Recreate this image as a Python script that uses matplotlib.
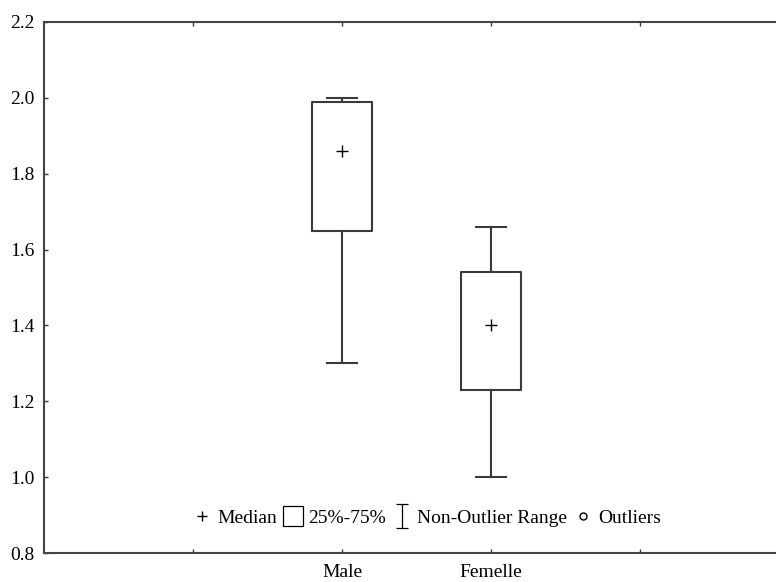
import matplotlib
matplotlib.use("Agg")
import matplotlib.pyplot as plt
from matplotlib.lines import Line2D
from matplotlib.path import Path

plt.rcParams['font.family'] = ['Liberation Serif', 'DejaVu Serif']

categories = ["Male", "Femelle"]
medians = [1.86, 1.40]
q1 = [1.65, 1.23]
q3 = [1.99, 1.54]
whis_lo = [1.30, 1.00]
whis_hi = [2.00, 1.66]
y_ticks = [0.8, 1.0, 1.2, 1.4, 1.6, 1.8, 2.0, 2.2]
legend_labels = ["Median", "25%-75%", "Non-Outlier Range", "Outliers"]

col = "#3a3a3a"
fig = plt.figure(figsize=(7.76, 5.82), dpi=100)
ax = fig.add_axes([44/776, 29/582, 732/776, 531/582])

positions = [2, 3]
stats = []
for i, c in enumerate(categories):
    stats.append(dict(label=c, med=medians[i], q1=q1[i], q3=q3[i],
                      whislo=whis_lo[i], whishi=whis_hi[i], fliers=[]))
ax.bxp(stats, positions=positions, widths=0.4, capwidths=0.2,
       showfliers=False, manage_ticks=False,
       boxprops=dict(color=col, linewidth=1.5),
       whiskerprops=dict(color=col, linewidth=1.5),
       capprops=dict(color=col, linewidth=1.5),
       medianprops=dict(linestyle='none'))
ax.plot(positions, medians, linestyle='none', marker='+', color='black',
        markersize=8, markeredgewidth=1.0)

ax.set_xlim(0, 732/149)
ax.set_ylim(0.8, 2.2)
ax.set_xticks([1, 2, 3, 4])
ax.set_xticklabels(["", "Male", "Femelle", ""])
ax.set_yticks(y_ticks)
ax.set_yticklabels([f"{v:.1f}" for v in y_ticks])
ax.tick_params(direction='in', length=3, width=1, color=col, labelsize=14,
               top=True, right=False, pad=7)
ax.tick_params(axis='x', pad=8)
ax.spines['right'].set_visible(False)
for s in ['left', 'bottom', 'top']:
    ax.spines[s].set_color("#444444")
    ax.spines[s].set_linewidth(1.5)

ibeam = Path([(-0.5, 1), (0.5, 1), (0, 1), (0, -1), (-0.5, -1), (0.5, -1)],
             [Path.MOVETO, Path.LINETO, Path.MOVETO, Path.LINETO, Path.MOVETO, Path.LINETO])
handles = [
    Line2D([], [], linestyle='none', marker='+', color='black', markersize=7, markeredgewidth=1),
    Line2D([], [], linestyle='none', marker='s', markerfacecolor='white', markeredgecolor='black',
           markersize=15, markeredgewidth=0.9),
    Line2D([], [], linestyle='none', marker=ibeam, color='black', markersize=17, markeredgewidth=0.9),
    Line2D([], [], linestyle='none', marker='o', markerfacecolor='white', markeredgecolor='black',
           markersize=5, markeredgewidth=1),
]
ax.legend(handles, legend_labels, ncol=4, loc='center', bbox_to_anchor=(0.523, 0.066),
          frameon=False, fontsize=14, handlelength=1.0, handletextpad=0.3,
          columnspacing=0.3, borderpad=0)

fig.savefig("out.png", dpi=100)
